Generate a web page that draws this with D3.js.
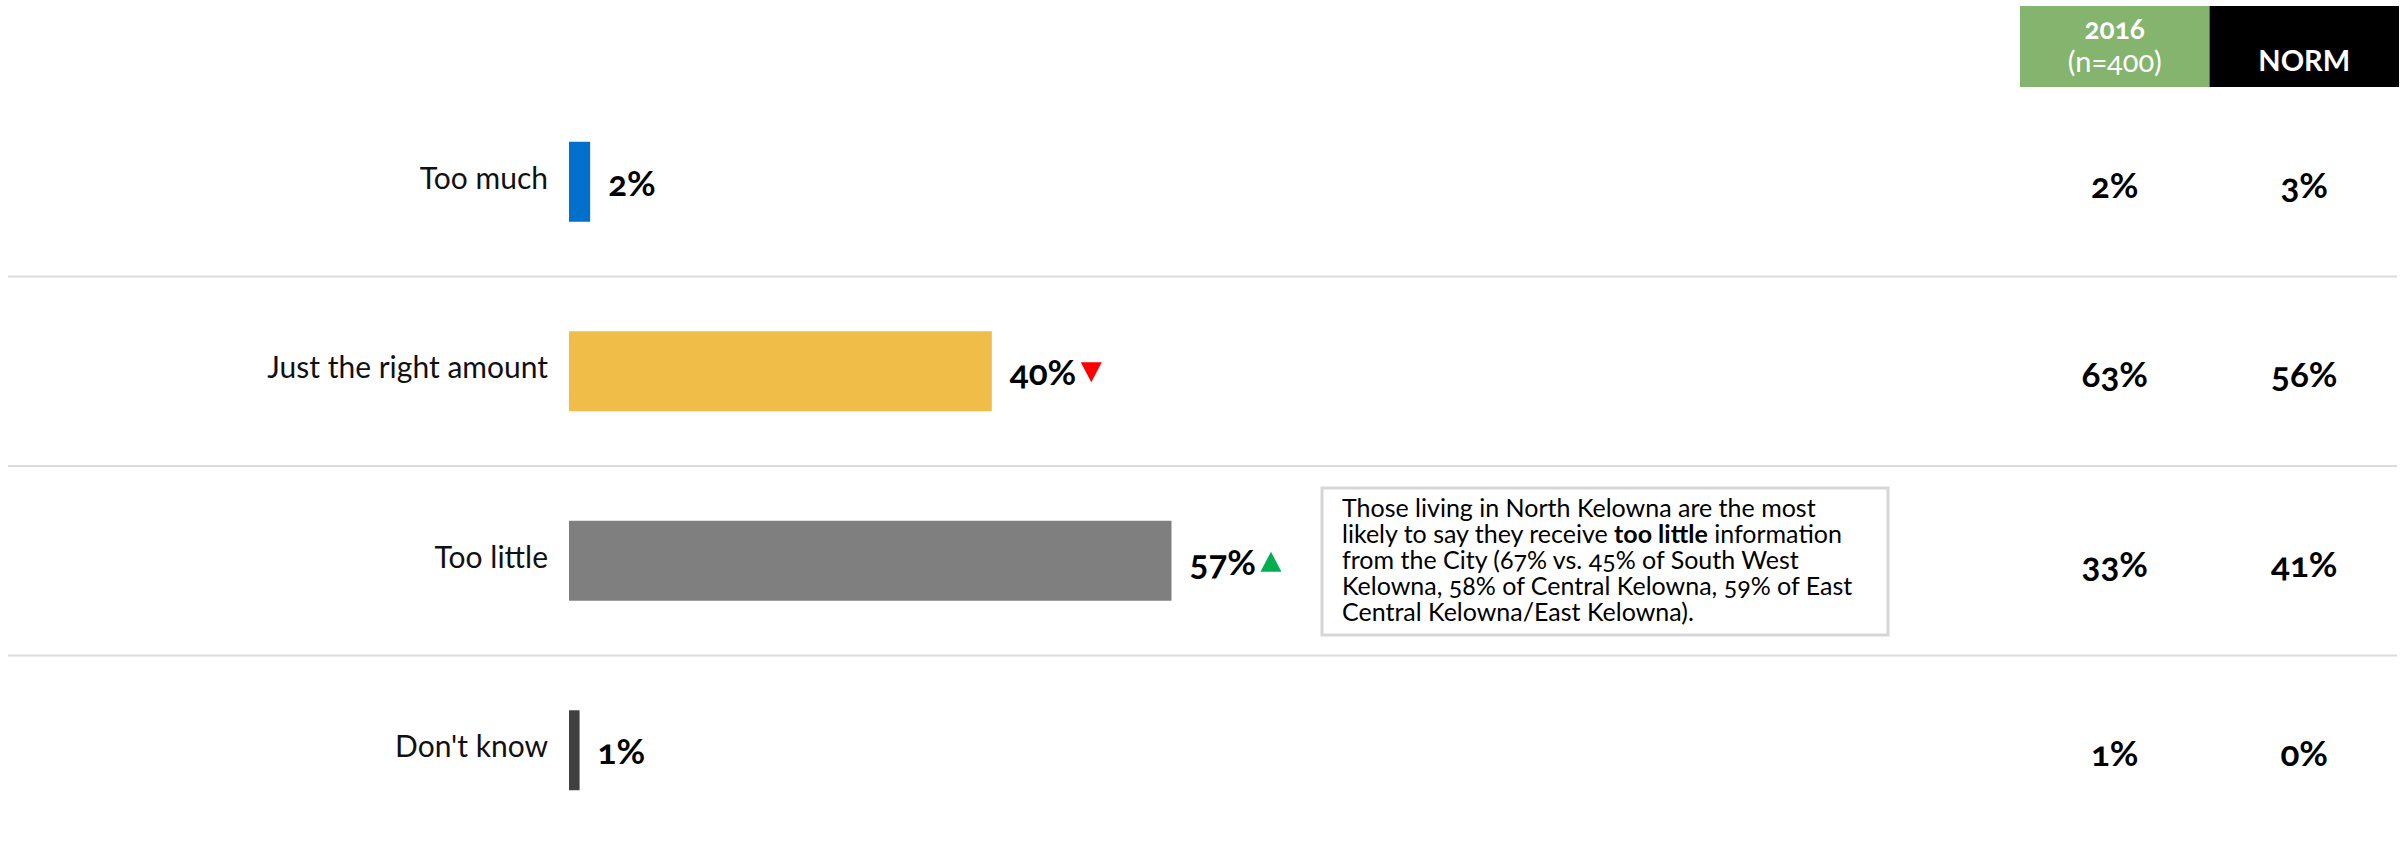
<!DOCTYPE html>
<html>
<head>
<meta charset="utf-8">
<script src="https://cdn.jsdelivr.net/npm/d3@7"></script>
<style>
  html, body { margin: 0; padding: 0; background: #ffffff; }
  svg { display: block; font-family: Lato, "Open Sans", sans-serif; font-variant-numeric: oldstyle-nums; }
</style>
</head>
<body>
<svg id="chart" width="2405" height="841"></svg>
<script>
// Response categories and their shares (%)
const categories = ["Too much", "Just the right amount", "Too little", "Don't know"];
const values = [2, 40, 57, 1];
const barColors = ["#0070cc", "#f0bd48", "#7f7f7f", "#404040"];
// Significance markers next to the value labels: "down", "up" or null
const markers = [null, "down", "up", null];

// Comparison columns on the right
const columns = ["2016", "NORM"];
const columnSub = ["(n=400)", null];
const columnColors = ["#84b46e", "#000000"];
const values2016 = [2, 63, 33, 1];
const valuesNorm = [3, 56, 41, 0];

// Call-out text next to the "Too little" row
const noteLines = [
  [["Those living in North Kelowna are the most", false]],
  [["likely to say they receive ", false], ["too little", true], [" information", false]],
  [["from the City (67% vs. 45% of South West", false]],
  [["Kelowna, 58% of Central Kelowna, 59% of East", false]],
  [["Central Kelowna/East Kelowna).", false]]
];

const svg = d3.select("#chart");

const y = d3.scaleBand()
  .domain(categories)
  .range([87, 845])
  .paddingInner(0.578)
  .paddingOuter(0.289);

const x = d3.scaleLinear().domain([0, 100]).range([569, 569 + 1057]);

const col = d3.scaleBand().domain(columns).range([2020, 2399]);

const step = y.step();
const gap = (step - y.bandwidth()) / 2;

// Row separators
svg.append("g").selectAll("line")
  .data(categories.slice(1))
  .join("line")
  .attr("x1", 8).attr("x2", 2397)
  .attr("y1", d => y(d) - gap).attr("y2", d => y(d) - gap)
  .attr("stroke", "#dcdcdc").attr("stroke-width", 2);

// Column headers
const head = svg.append("g");
head.selectAll("rect")
  .data(columns)
  .join("rect")
  .attr("x", d => col(d)).attr("y", 6)
  .attr("width", col.bandwidth()).attr("height", 81)
  .attr("fill", (d, i) => columnColors[i]);

head.selectAll("text.h")
  .data(columns)
  .join("text")
  .attr("class", "h")
  .attr("x", d => col(d) + col.bandwidth() / 2)
  .attr("y", (d, i) => columnSub[i] ? 28 : 59)
  .attr("text-anchor", "middle")
  .attr("dominant-baseline", "central")
  .attr("fill", "#ffffff")
  .attr("font-weight", "bold")
  .attr("font-size", (d, i) => columnSub[i] ? 28 : 29)
  .text(d => d);

head.selectAll("text.s")
  .data(columns.filter((d, i) => columnSub[i]))
  .join("text")
  .attr("class", "s")
  .attr("x", d => col(d) + col.bandwidth() / 2)
  .attr("y", 60)
  .attr("text-anchor", "middle")
  .attr("dominant-baseline", "central")
  .attr("fill", "#ffffff")
  .attr("font-size", 29)
  .text(d => columnSub[columns.indexOf(d)]);

// Category labels
svg.append("g").selectAll("text")
  .data(categories)
  .join("text")
  .attr("x", 548)
  .attr("y", d => y(d) + y.bandwidth() / 2 - 5)
  .attr("text-anchor", "end")
  .attr("dominant-baseline", "central")
  .attr("font-size", 30)
  .attr("fill", "#111111")
  .text(d => d);

// Bars
svg.append("g").selectAll("rect")
  .data(categories)
  .join("rect")
  .attr("x", x(0))
  .attr("y", d => y(d))
  .attr("width", (d, i) => x(values[i]) - x(0))
  .attr("height", y.bandwidth())
  .attr("fill", (d, i) => barColors[i]);

// Value labels
const labels = svg.append("g").selectAll("text")
  .data(categories)
  .join("text")
  .attr("x", (d, i) => x(values[i]) + 18)
  .attr("y", d => y(d) + y.bandwidth() / 2)
  .attr("dominant-baseline", "central")
  .attr("font-size", 35)
  .attr("font-weight", "bold")
  .attr("fill", "#000000")
  .text((d, i) => values[i] + "%");

// Significance triangles after the value labels
const tri = svg.append("g");
labels.each(function(d, i) {
  const m = markers[i];
  if (!m) return;
  const bb = this.getBBox();
  const cx = bb.x + bb.width + 15;
  const cy = y(d) + y.bandwidth() / 2 + 1;
  const w = 21, h = 20;
  const pts = m === "down"
    ? [[cx - w / 2, cy - h / 2], [cx + w / 2, cy - h / 2], [cx, cy + h / 2]]
    : [[cx - w / 2, cy + h / 2], [cx + w / 2, cy + h / 2], [cx, cy - h / 2]];
  tri.append("path")
    .attr("d", d3.line()(pts) + "Z")
    .attr("fill", m === "down" ? "#ff0000" : "#00b050");
});

// Comparison values
const cmp = svg.append("g");
[values2016, valuesNorm].forEach((vals, c) => {
  cmp.selectAll("text.c" + c)
    .data(categories)
    .join("text")
    .attr("class", "c" + c)
    .attr("x", col(columns[c]) + col.bandwidth() / 2)
    .attr("y", d => y(d) + y.bandwidth() / 2 + 2)
    .attr("text-anchor", "middle")
    .attr("dominant-baseline", "central")
    .attr("font-size", 35)
    .attr("font-weight", "bold")
    .attr("fill", "#000000")
    .text((d, i) => vals[i] + "%");
});

// Call-out box
const note = svg.append("g");
note.append("rect")
  .attr("x", 1322).attr("y", 488)
  .attr("width", 566).attr("height", 147)
  .attr("fill", "#ffffff")
  .attr("stroke", "#d6d6d6")
  .attr("stroke-width", 3);

const noteText = note.append("text")
  .attr("font-size", 25)
  .attr("fill", "#000000");
noteLines.forEach((parts, li) => {
  parts.forEach((p, pi) => {
    const t = noteText.append("tspan")
      .attr("font-weight", p[1] ? "bold" : "normal")
      .text(p[0]);
    if (pi === 0) t.attr("x", 1342).attr("y", 517 + li * 26);
  });
});
</script>
</body>
</html>
